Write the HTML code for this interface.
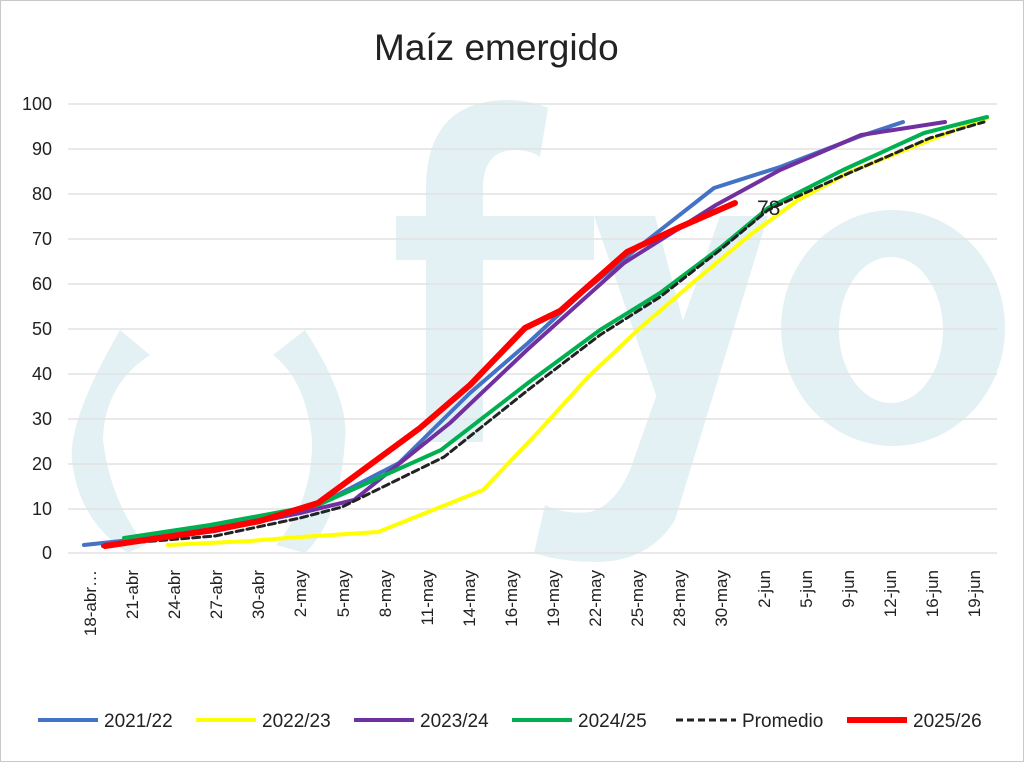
<!DOCTYPE html>
<html><head><meta charset="utf-8"><style>
html,body{margin:0;padding:0;background:#fff}
svg{display:block}
text{font-family:"Liberation Sans",sans-serif;fill:#222}
</style></head><body>
<svg width="1024" height="762" viewBox="0 0 1024 762" xmlns="http://www.w3.org/2000/svg">
<rect x="0.5" y="0.5" width="1023" height="761" fill="#fff" stroke="#c8c8c8"/>
<g fill="#e3f1f5">
<path d="M426,442 L483,442 L483,260 L594,260 L594,216 L483,216 L483,185 Q485,150 515,150 Q530,150 540,157 L548,108 Q530,100 505,100 Q428,102 426,185 L426,216 L396,216 L396,260 L426,260 Z"/>
<path d="M594,216 L655,216 L700,385 L675,450 Z"/>
<path d="M720,216 L768,216 L675,520 Q650,560 600,562 Q560,562 534,553 L545,505 Q565,515 590,512 Q615,505 630,470 Z"/>
<path fill-rule="evenodd" d="M893,210 A112,118 0 1,0 893.1,210 Z M891,257 A52,73 0 1,1 890.9,257 Z"/>
<path d="M120,330 Q68,420 72,460 Q78,520 128,553 L145,545 Q110,500 103,440 Q104,385 150,355 Z"/>
<path d="M305,330 Q350,400 345,440 Q340,520 305,553 L276,545 Q313,500 312,440 Q306,380 273,355 Z"/>
</g>
<g stroke="#e2e2e2" stroke-width="1.5">
<line x1="68" x2="997" y1="104" y2="104"/><line x1="68" x2="997" y1="149" y2="149"/>
<line x1="68" x2="997" y1="194" y2="194"/><line x1="68" x2="997" y1="239" y2="239"/>
<line x1="68" x2="997" y1="284" y2="284"/><line x1="68" x2="997" y1="329" y2="329"/>
<line x1="68" x2="997" y1="374" y2="374"/><line x1="68" x2="997" y1="419" y2="419"/>
<line x1="68" x2="997" y1="464" y2="464"/><line x1="68" x2="997" y1="509" y2="509"/>
<line x1="68" x2="997" y1="553" y2="553"/>
</g>
<text x="374" y="60" font-size="37" fill="#111">Maíz emergido</text>
<g font-size="18" text-anchor="end">
<text x="52" y="110">100</text><text x="52" y="155">90</text><text x="52" y="200">80</text>
<text x="52" y="245">70</text><text x="52" y="290">60</text><text x="52" y="335">50</text>
<text x="52" y="380">40</text><text x="52" y="425">30</text><text x="52" y="470">20</text>
<text x="52" y="515">10</text><text x="52" y="559">0</text>
</g>
<g font-size="17" text-anchor="end">
<text transform="translate(96,570) rotate(-90)">18-abr…</text>
<text transform="translate(138,570) rotate(-90)">21-abr</text>
<text transform="translate(180,570) rotate(-90)">24-abr</text>
<text transform="translate(222,570) rotate(-90)">27-abr</text>
<text transform="translate(264,570) rotate(-90)">30-abr</text>
<text transform="translate(306,570) rotate(-90)">2-may</text>
<text transform="translate(349,570) rotate(-90)">5-may</text>
<text transform="translate(391,570) rotate(-90)">8-may</text>
<text transform="translate(433,570) rotate(-90)">11-may</text>
<text transform="translate(475,570) rotate(-90)">14-may</text>
<text transform="translate(517,570) rotate(-90)">16-may</text>
<text transform="translate(559,570) rotate(-90)">19-may</text>
<text transform="translate(601,570) rotate(-90)">22-may</text>
<text transform="translate(643,570) rotate(-90)">25-may</text>
<text transform="translate(685,570) rotate(-90)">28-may</text>
<text transform="translate(727,570) rotate(-90)">30-may</text>
<text transform="translate(770,570) rotate(-90)">2-jun</text>
<text transform="translate(812,570) rotate(-90)">5-jun</text>
<text transform="translate(854,570) rotate(-90)">9-jun</text>
<text transform="translate(896,570) rotate(-90)">12-jun</text>
<text transform="translate(938,570) rotate(-90)">16-jun</text>
<text transform="translate(980,570) rotate(-90)">19-jun</text>
</g>
<g fill="none" stroke-linejoin="round" stroke-linecap="round">
<polyline stroke="#ffff00" stroke-width="4" points="168,545 250,541 300,537 378,532 483,490 540,430 588,377 640,328 696,280 750,235 798,200 850,172 930,140 987,118"/>
<polyline stroke="#4472c4" stroke-width="4" points="84,545 131,540 215,528 318,505 399,463 470,393 528,343 582,293 640,246 714,188 780,167 858,137 903,122"/>
<polyline stroke="#7030a0" stroke-width="4" points="103,546 215,531 300,513 354,500 450,423 528,349 624,263 716,205 780,170 861,135 945,122"/>
<polyline stroke="#00b050" stroke-width="4" points="124,538 210,525 318,505 441,450 528,383 600,330 660,293 720,248 768,208 843,170 924,133 987,117"/>
<polyline stroke="#222" stroke-width="3" stroke-dasharray="7,4" points="105,545 215,536 300,518 342,507 444,457 528,390 600,335 660,297 720,250 768,210 840,177 930,138 984,122"/>
<polyline stroke="#ff0000" stroke-width="6" points="105,546 213,530 260,521 318,503 420,428 470,385 525,328 560,311 627,252 680,227 735,203"/>
</g>
<text x="757" y="215" font-size="21" fill="#333">78</text>
<g fill="none">
<line x1="38" x2="98" y1="720" y2="720" stroke="#4472c4" stroke-width="4"/>
<line x1="196" x2="256" y1="720" y2="720" stroke="#ffff00" stroke-width="4"/>
<line x1="354" x2="414" y1="720" y2="720" stroke="#7030a0" stroke-width="4"/>
<line x1="512" x2="572" y1="720" y2="720" stroke="#00b050" stroke-width="4"/>
<line x1="676" x2="736" y1="720" y2="720" stroke="#222" stroke-width="3" stroke-dasharray="7,4"/>
<line x1="847" x2="907" y1="720" y2="720" stroke="#ff0000" stroke-width="6"/>
</g>
<g font-size="19">
<text x="104" y="727">2021/22</text><text x="262" y="727">2022/23</text>
<text x="420" y="727">2023/24</text><text x="578" y="727">2024/25</text>
<text x="742" y="727">Promedio</text><text x="913" y="727">2025/26</text>
</g>
</svg>
</body></html>
